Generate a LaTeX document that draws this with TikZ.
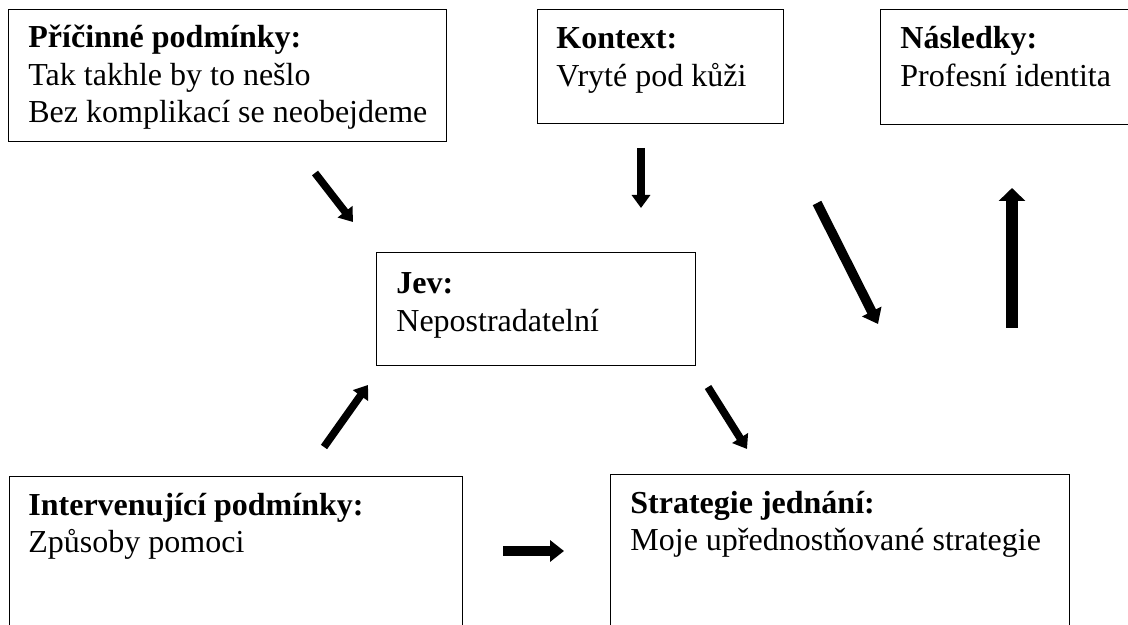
\documentclass[tikz,border=0pt]{standalone}
\usepackage{fontspec}
\setmainfont{Liberation Serif}
\usetikzlibrary{arrows.meta,calc}
\begin{document}
\begin{tikzpicture}[x=0.5pt,y=-0.5pt,
  box/.style={draw=black,line width=0.7pt,inner sep=0pt,anchor=north west},
  txt/.style={anchor=base west,inner sep=0pt,font=\fontsize{16}{18.7}\selectfont},
  arr/.style={line width=3.8pt,-{Triangle[width=9pt,length=6.5pt]}},
  arrthick/.style={line width=4.8pt,-{Triangle[width=10.5pt,length=7pt]}},
  arrheavy/.style={line width=6pt,-{Triangle[width=13pt,length=6.5pt]}}]
\useasboundingbox (0,0) rectangle (1128,625);

% boxes
\node[box,minimum width=219pt,minimum height=66pt] (pric) at (8,9) {};
\node[box,minimum width=123pt,minimum height=57pt] (kont) at (537,9) {};
\node[box,minimum width=130pt,minimum height=57.5pt] (nasl) at (880,9) {};
\node[box,minimum width=159.5pt,minimum height=56.5pt] (jev) at (376,252) {};
\node[box,minimum width=226.5pt,minimum height=87pt] (interv) at (9,476) {};
\node[box,minimum width=229.5pt,minimum height=88pt] (strat) at (610,474) {};

% texts
\node[txt] (pricT) at ($(pric.north west)+(20,39)$) {\begin{tabular}[t]{@{}l@{}}\textbf{Příčinné podmínky:}\\ Tak takhle by to nešlo\\ Bez komplikací se neobejdeme\end{tabular}};
\node[txt] (kontT) at ($(kont.north west)+(19,40)$) {\begin{tabular}[t]{@{}l@{}}\textbf{Kontext:}\\ Vryté pod kůži\end{tabular}};
\node[txt] (naslT) at ($(nasl.north west)+(20,40)$) {\begin{tabular}[t]{@{}l@{}}\textbf{Následky:}\\ Profesní identita\end{tabular}};
\node[txt] (jevT) at ($(jev.north west)+(20,42)$) {\begin{tabular}[t]{@{}l@{}}\textbf{Jev:}\\ Nepostradatelní\end{tabular}};
\node[txt] (intervT) at ($(interv.north west)+(19,39)$) {\begin{tabular}[t]{@{}l@{}}\textbf{Intervenující podmínky:}\\ Způsoby pomoci\end{tabular}};
\node[txt] (stratT) at ($(strat.north west)+(20,39)$) {\begin{tabular}[t]{@{}l@{}}\textbf{Strategie jednání:}\\ Moje upřednostňované strategie\end{tabular}};

% arrow end points
\coordinate (a1s) at (315,173); \coordinate (a1e) at (353,222);
\coordinate (a2s) at (641,148); \coordinate (a2e) at (641,208);
\coordinate (a3s) at (817,203); \coordinate (a3e) at (878,324);
\coordinate (a4s) at (1012,328); \coordinate (a4e) at (1012,188);
\coordinate (a5s) at (324,447); \coordinate (a5e) at (368,385);
\coordinate (a6s) at (708,387); \coordinate (a6e) at (747,449);
\coordinate (a7s) at (503,551); \coordinate (a7e) at (564,551);

\draw[arr] (a1s) -- (a1e);
\draw[arr] (a2s) -- (a2e);
\draw[arrthick] (a3s) -- (a3e);
\draw[arrheavy] (a4s) -- (a4e);
\draw[arr] (a5s) -- (a5e);
\draw[arr] (a6s) -- (a6e);
\draw[arrthick] (a7s) -- (a7e);
\end{tikzpicture}
\end{document}
